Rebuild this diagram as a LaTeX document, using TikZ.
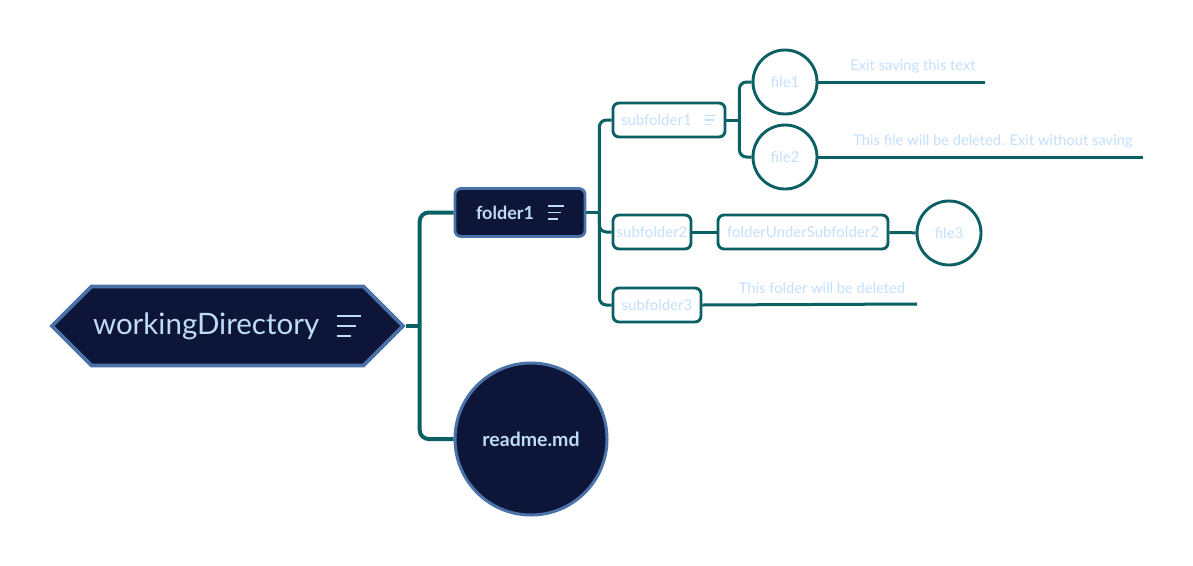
\documentclass[tikz,border=0pt]{standalone}
\usepackage{fontspec}
\setmainfont{Lato}
\usetikzlibrary{positioning,shapes.symbols}
\definecolor{navycol}{RGB}{13,21,56}
\definecolor{rimcol}{RGB}{74,114,168}
\definecolor{tealcol}{RGB}{11,96,100}
\definecolor{textcol}{RGB}{190,219,248}
\definecolor{palecol}{RGB}{196,224,252}
\tikzset{
  % root hexagon
  rootnode/.style={signal, signal to=west and east, draw=rimcol, line width=3.8pt, fill=navycol,
                   text=textcol, minimum width=351pt, minimum height=79pt, inner sep=0pt,
                   font=\fontsize{29.5}{34}\selectfont},
  % dark folder box
  dbox/.style={rectangle, rounded corners=6pt, draw=rimcol, line width=2.8pt, fill=navycol,
               text=textcol, minimum width=130pt, minimum height=48pt, inner sep=0pt,
               font=\fontsize{18}{21}\selectfont\bfseries},
  % light folder box
  lbox/.style={rectangle, rounded corners=6pt, draw=tealcol, line width=2.9pt, fill=white,
               text=palecol, minimum width=#1, minimum height=34pt, inner sep=0pt,
               font=\fontsize{15}{18}\selectfont},
  lbox/.default={80pt},
  % file circle
  fcirc/.style={circle, draw=tealcol, line width=2.9pt, fill=white, text=palecol,
                minimum size=64pt, inner sep=0pt, font=\fontsize{15}{18}\selectfont},
  % dark file circle
  dcirc/.style={circle, draw=rimcol, line width=3pt, fill=navycol, text=textcol,
                minimum size=152pt, inner sep=0pt, font=\fontsize{19.5}{23}\selectfont\bfseries},
  % connectors
  trunk/.style={draw=tealcol, line width=4pt, rounded corners=9pt},
  twig/.style={draw=tealcol, line width=3pt, rounded corners=7pt},
  % note over a tail line
  note/.style={text=palecol, inner sep=0pt, font=\fontsize{14.7}{17}\selectfont},
  % three-line menu mark
  menuicon/.pic={
    \draw (-5.5,-4.5) -- (5.5,-4.5);
    \draw (-5.5,0) -- (3.5,0);
    \draw (-5.5,4.5) -- (1,4.5);
  },
}
\begin{document}
\begin{tikzpicture}[x=1pt, y=-1pt]
  \fill[white] (0,0) rectangle (1193,565);
  \useasboundingbox (0,0) rectangle (1193,565);

  % main nodes
  \node[rootnode] (root) at (227.5,326) {\makebox[269pt][l]{workingDirectory}};
  \pic[color=textcol, line width=2pt, scale=2.2] at ([xshift=-57pt]root.east) {menuicon};
  \node[dbox] (folder1) at (520,212.5) {\makebox[88pt][l]{folder1}};
  \pic[color=textcol, line width=1.6pt, scale=1.45] at ([xshift=-30pt]folder1.east) {menuicon};
  \node[dcirc] (readme) at (531,439) {readme.md};

  % folders
  \node[lbox=112pt] (sub1) at (669,120) {\makebox[96pt][l]{subfolder1}};
  \pic[color=palecol, line width=1.2pt] at ([xshift=-16pt]sub1.east) {menuicon};
  \node[lbox=78pt] (sub2) at (652,232) {subfolder2};
  \node[lbox=88pt] (sub3) at (657,305) {subfolder3};
  \node[lbox=170pt] (deep2) at (803,232) {folderUnderSubfolder2};

  % files
  \node[fcirc] (file1) at (785,82) {file1};
  \node[fcirc] (file2) at (785,157) {file2};
  \node[fcirc] (file3) at (949,233) {file3};

  % notes
  \node[note] (note1) at (913,66) {Exit saving this text};
  \node[note] (note2) at (993,141) {This file will be deleted. Exit without saving};
  \node[note] (note3) at (822,288) {This folder will be deleted};
  \coordinate (end1) at (985,82);
  \coordinate (end2) at (1143,157);
  \coordinate (end3) at (917,304);

  % branches
  \coordinate (j0) at ([xshift=14pt]root.east);
  \draw[trunk, rounded corners=0pt] (root.east) -- (j0);
  \draw[trunk] (j0) |- (folder1.west);
  \draw[trunk] (j0) |- (readme.west);

  \coordinate (j1) at ([xshift=13pt]folder1.east);
  \draw[twig, rounded corners=0pt] (folder1.east) -- (j1);
  \draw[twig] (j1) |- (sub1.west);
  \draw[twig] (j1) |- (sub2.west);
  \draw[twig] (j1) |- (sub3.west);

  \coordinate (j2) at ([xshift=13pt]sub1.east);
  \draw[twig, rounded corners=0pt] (sub1.east) -- (j2);
  \draw[twig] (j2) |- (file1.west);
  \draw[twig] (j2) |- (file2.west);

  \draw[twig] (sub2) -- (deep2);
  \draw[twig] (deep2) -- (file3);

  \draw[twig] (file1.east) -- (end1);
  \draw[twig] (file2.east) -- (end2);
  \draw[twig] (sub3.east) -- (end3);
\end{tikzpicture}
\end{document}
